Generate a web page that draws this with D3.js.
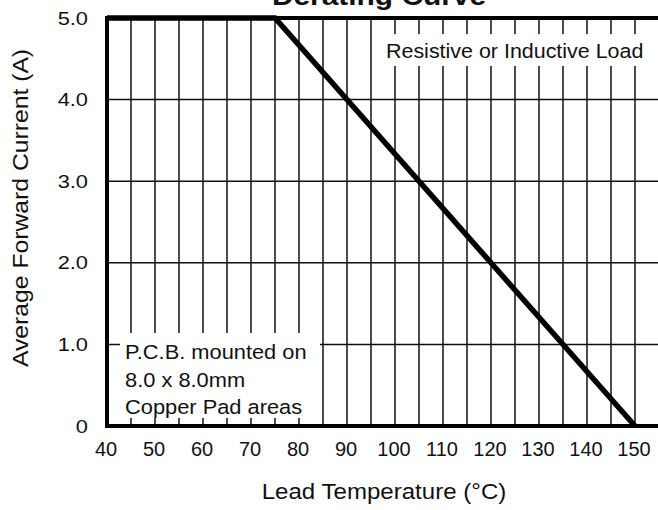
<!DOCTYPE html>
<html>
<head>
<meta charset="utf-8">
<script src="https://cdn.jsdelivr.net/npm/d3@7"></script>
<style>
  html, body { margin: 0; padding: 0; background: #fff; }
  svg { display: block; }
  text { font-family: "Liberation Sans", Arial, Helvetica, sans-serif; fill: #111; }
</style>
</head>
<body>
<svg id="chart" width="658" height="510"></svg>
<script>
// ---- data ----
const curveTemps = [40, 75, 150];        // Lead temperature (°C)
const curveCurrent = [5.0, 5.0, 0.0];    // Average forward current (A)
const xTickValues = [40, 50, 60, 70, 80, 90, 100, 110, 120, 130, 140, 150];
const xGridValues = d3.range(45, 151, 5);
const yTickValues = [0, 1, 2, 3, 4, 5];
const yTickLabels = ["0", "1.0", "2.0", "3.0", "4.0", "5.0"];
const titleText = "Derating Curve";
const xTitle = "Lead Temperature (\u00B0C)";
const yTitle = "Average Forward Current (A)";
const noteTopRight = ["Resistive or Inductive Load"];
const noteBottomLeft = ["P.C.B. mounted on", "8.0 x 8.0mm", "Copper Pad areas"];

// ---- layout ----
const svg = d3.select("#chart");
const x = d3.scaleLinear().domain([40, 155]).range([107, 659]);
const y = d3.scaleLinear().domain([0, 5]).range([426, 18]);

function stretchText(g, str, tx, ty, size, sx, anchor, weight, rotate) {
  return g.append("text")
    .attr("transform", `translate(${tx},${ty})` + (rotate ? ` rotate(${rotate})` : "") + ` scale(${sx},1)`)
    .attr("text-anchor", anchor || "start")
    .style("font-size", size + "px")
    .style("font-weight", weight || "normal")
    .text(str);
}

// gridlines
const grid = svg.append("g").attr("stroke", "#111").attr("stroke-width", 1.5);
grid.selectAll("line.v").data(xGridValues).join("line")
  .attr("class", "v")
  .attr("x1", d => x(d)).attr("x2", d => x(d))
  .attr("y1", y(5)).attr("y2", y(0));
grid.selectAll("line.h").data(yTickValues.filter(d => d > 0 && d < 5)).join("line")
  .attr("class", "h")
  .attr("x1", x(40)).attr("x2", x(155))
  .attr("y1", d => y(d)).attr("y2", d => y(d));

// annotation boxes (white background hides gridlines)
svg.append("rect").attr("x", 378).attr("y", 34).attr("width", 272).attr("height", 32).attr("fill", "#fff");
svg.append("rect").attr("x", 120).attr("y", 333).attr("width", 200).attr("height", 85).attr("fill", "#fff");

// frame lines (left, bottom, top)
const frame = svg.append("g").attr("stroke", "#000").attr("stroke-width", 4).attr("stroke-linecap", "square");
frame.append("line").attr("x1", x(40)).attr("x2", x(40)).attr("y1", y(5)).attr("y2", y(0));
frame.append("line").attr("x1", x(40)).attr("x2", x(155)).attr("y1", y(0)).attr("y2", y(0));
frame.append("line").attr("x1", x(40)).attr("x2", x(155)).attr("y1", y(5)).attr("y2", y(5));

// derating curve
const pts = curveTemps.map((t, i) => [t, curveCurrent[i]]);
svg.append("path")
  .datum(pts)
  .attr("fill", "none")
  .attr("stroke", "#000")
  .attr("stroke-width", 5.5)
  .attr("d", d3.line().x(d => x(d[0])).y(d => y(d[1])));

// tick labels
const tl = svg.append("g");
xTickValues.forEach(v => stretchText(tl, String(v), x(v) - 1, 456, 20, 1.0, "middle"));
yTickValues.forEach((v, i) => stretchText(tl, yTickLabels[i], 88, y(v) + 6.5, 18.5, 1.18, "end"));

// titles
stretchText(svg, titleText, 379, 5, 26, 1.15, "middle", "bold");
stretchText(svg, xTitle, 384, 499, 21.5, 1.12, "middle");
stretchText(svg, yTitle, 28, 208, 21.5, 1.15, "middle", "normal", -90);

// notes
noteTopRight.forEach((s, i) => stretchText(svg, s, 386, 58, 19.5, 1.1, "start"));
noteBottomLeft.forEach((s, i) => stretchText(svg, s, 125, 359 + i * 27.5, 19.5, 1.12, "start"));
</script>
</body>
</html>
